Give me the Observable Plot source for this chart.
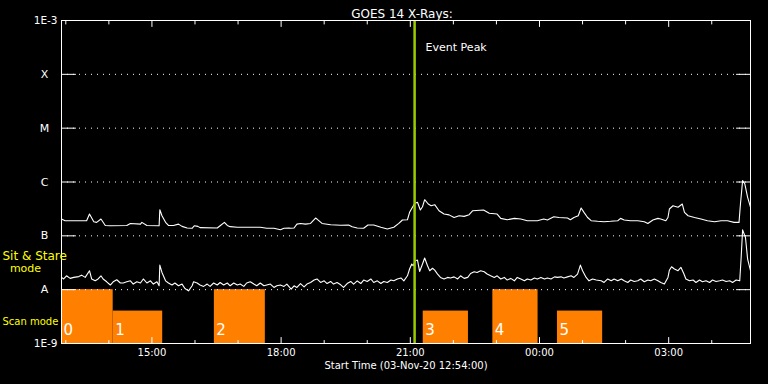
<!DOCTYPE html>
<html><head><meta charset="utf-8">
<script src="https://cdn.jsdelivr.net/npm/d3@7"></script>
<script src="https://cdn.jsdelivr.net/npm/@observablehq/plot@0.6"></script>
<style>html,body{margin:0;padding:0;background:#000;}</style>
</head><body><div id="chart"></div>
<script>
// ---- data ----
const startTime = "2020-11-03T12:54:00Z";
const endTime = "2020-11-04T04:54:00Z";
const peakTime = "2020-11-03T21:06:00Z";

// long channel (1-8 A), minutes after start / flux W m^-2
const upperMin = [0,5,35,39,45,49,55,61,68,91,96,110,112,119,136,137,140,145,149,156,163,168,175,182,185,190,193,217,221,227,231,235,245,277,286,296,305,310,317,
319,324,328,333,340,347,354,356,363,375,389,400,405,412,421,427,435,445,454,463,470,475,482,485,489,492,496,500,503,506,511,515,520,526,533,540,547,554,561,568,573,588,596,607,612,621,631,640,
649,663,672,677,686,693,705,709,714,720,724,728,733,738,747,756,765,775,779,784,793,803,812,817,824,831,835,842,845,847,852,859,865,868,873,882,891,900,910,919,928,937,944,946,949,952,956,960];
const upperFlux = [2.05e-7,1.91e-7,1.91e-7,2.54e-7,1.83e-7,1.78e-7,2.05e-7,1.56e-7,1.54e-7,1.56e-7,1.70e-7,1.65e-7,1.78e-7,1.56e-7,1.54e-7,3.05e-7,2.36e-7,1.78e-7,1.56e-7,1.56e-7,1.65e-7,1.50e-7,1.40e-7,1.38e-7,1.54e-7,1.50e-7,1.42e-7,1.40e-7,1.54e-7,1.78e-7,1.56e-7,1.48e-7,1.44e-7,1.44e-7,1.38e-7,1.38e-7,1.30e-7,1.38e-7,1.40e-7,
1.38e-7,1.40e-7,1.65e-7,1.70e-7,1.65e-7,1.70e-7,2.14e-7,2.05e-7,1.70e-7,1.61e-7,1.57e-7,1.59e-7,1.48e-7,1.40e-7,1.38e-7,1.59e-7,1.59e-7,1.44e-7,1.34e-7,1.44e-7,1.70e-7,1.97e-7,1.99e-7,2.73e-7,3.40e-7,4.0e-7,4.2e-7,3.02e-7,3.47e-7,4.69e-7,3.9e-7,3.62e-7,3.79e-7,2.93e-7,2.54e-7,2.45e-7,2.19e-7,2.36e-7,2.30e-7,2.47e-7,2.93e-7,3.02e-7,2.63e-7,2.54e-7,2.11e-7,1.99e-7,2.11e-7,2.05e-7,
1.91e-7,1.91e-7,2.05e-7,1.97e-7,2.26e-7,2.19e-7,2.14e-7,1.99e-7,2.19e-7,2.36e-7,3.29e-7,2.73e-7,2.19e-7,1.91e-7,1.86e-7,1.83e-7,1.86e-7,1.91e-7,2.11e-7,1.97e-7,1.91e-7,1.91e-7,1.83e-7,1.70e-7,1.97e-7,2.11e-7,2.05e-7,1.91e-7,2.19e-7,3.15e-7,3.62e-7,3.40e-7,3.9e-7,2.73e-7,2.36e-7,2.19e-7,2.05e-7,1.91e-7,1.83e-7,1.91e-7,1.91e-7,1.78e-7,1.78e-7,3.9e-7,1.06e-6,9.3e-7,5.2e-7,3.40e-7];

// short channel (0.5-4 A)
const lowerMin = [0,3,7,12,17,24,28,33,39,42,47,51,55,58,63,68,72,77,82,86,91,96,100,105,110,114,119,124,128,133,136,137,140,145,149,154,158,163,168,172,177,182,184,189,193,198,203,207,212,217,221,226,231,235,240,245,249,254,258,263,268,272,277,282,286,291,296,300,305,310,314,
320,324,328,333,338,342,347,352,356,361,366,370,375,379,384,389,393,398,403,407,412,417,421,426,431,435,440,445,449,454,459,463,468,473,477,482,485,488,490,493,496,499,503,506,510,513,517,520,524,528,533,538,542,547,552,556,561,566,570,575,579,584,589,593,598,603,607,612,617,621,626,631,635,
640,645,649,654,659,663,668,673,677,682,687,691,696,700,705,710,714,719,723,726,731,735,740,745,752,756,761,766,770,775,780,784,789,793,798,803,807,812,817,821,826,831,835,840,845,847,850,854,859,863,867,870,875,880,884,889,893,898,903,907,912,917,921,926,931,935,940,945,947,949,953,956,960];
const lowerFlux = [1.69e-8,1.58e-8,1.81e-8,1.62e-8,1.69e-8,1.75e-8,1.86e-8,1.69e-8,2.25e-8,1.58e-8,1.46e-8,1.58e-8,1.81e-8,1.58e-8,1.40e-8,1.22e-8,1.40e-8,1.53e-8,1.33e-8,1.33e-8,1.40e-8,1.46e-8,1.27e-8,1.40e-8,1.33e-8,1.58e-8,1.33e-8,1.46e-8,1.27e-8,1.40e-8,1.18e-8,2.86e-8,2.09e-8,1.46e-8,1.33e-8,1.22e-8,1.33e-8,1.18e-8,1.27e-8,1.05e-8,0.95e-8,1.18e-8,1.40e-8,1.33e-8,1.22e-8,1.15e-8,1.27e-8,1.15e-8,1.33e-8,1.22e-8,1.36e-8,1.22e-8,1.33e-8,1.18e-8,1.33e-8,1.22e-8,1.27e-8,1.15e-8,1.33e-8,1.40e-8,1.27e-8,1.18e-8,1.33e-8,1.18e-8,1.22e-8,1.27e-8,1.10e-8,1.18e-8,1.22e-8,1.15e-8,1.27e-8,
1.02e-8,1.18e-8,1.10e-8,1.30e-8,1.13e-8,1.27e-8,1.36e-8,1.51e-8,1.58e-8,1.36e-8,1.46e-8,1.30e-8,1.42e-8,1.27e-8,1.36e-8,1.23e-8,1.10e-8,1.30e-8,1.42e-8,1.27e-8,1.46e-8,1.30e-8,1.51e-8,1.42e-8,1.58e-8,1.36e-8,1.46e-8,1.30e-8,1.42e-8,1.36e-8,1.51e-8,1.46e-8,1.58e-8,1.65e-8,1.46e-8,1.81e-8,2.42e-8,3.0e-8,2.78e-8,3.45e-8,3.55e-8,2.18e-8,3.0e-8,3.87e-8,2.78e-8,2.25e-8,2.5e-8,2.3e-8,1.95e-8,1.69e-8,1.58e-8,1.69e-8,1.65e-8,1.73e-8,1.58e-8,1.81e-8,1.62e-8,1.69e-8,2.0e-8,2.15e-8,2.09e-8,2.25e-8,2.15e-8,1.95e-8,1.81e-8,1.69e-8,1.81e-8,1.58e-8,1.69e-8,1.51e-8,1.62e-8,1.46e-8,1.69e-8,
1.58e-8,1.46e-8,1.58e-8,1.51e-8,1.65e-8,1.58e-8,1.69e-8,1.58e-8,1.65e-8,1.58e-8,1.73e-8,1.69e-8,1.73e-8,1.65e-8,1.73e-8,1.81e-8,1.69e-8,1.95e-8,2.86e-8,2.25e-8,1.69e-8,1.46e-8,1.58e-8,1.51e-8,1.46e-8,1.36e-8,1.58e-8,1.46e-8,1.58e-8,1.46e-8,1.58e-8,1.46e-8,1.36e-8,1.51e-8,1.42e-8,1.46e-8,1.58e-8,1.40e-8,1.51e-8,1.46e-8,1.58e-8,1.46e-8,1.36e-8,1.27e-8,1.69e-8,2.3e-8,2.66e-8,2.42e-8,2.25e-8,2.6e-8,2.0e-8,1.58e-8,1.46e-8,1.51e-8,1.36e-8,1.51e-8,1.40e-8,1.46e-8,1.36e-8,1.51e-8,1.42e-8,1.46e-8,1.51e-8,1.42e-8,1.46e-8,1.36e-8,1.51e-8,1.46e-8,4.0e-8,1.29e-7,9.3e-8,3.7e-8,2.25e-8];

// scan-mode blocks
const scanStart = ["2020-11-03T12:54Z","2020-11-03T14:06Z","2020-11-03T16:27Z","2020-11-03T21:18Z","2020-11-03T22:55Z","2020-11-04T00:25Z"];
const scanEnd   = ["2020-11-03T14:06Z","2020-11-03T15:15Z","2020-11-03T17:38Z","2020-11-03T22:21Z","2020-11-03T23:58Z","2020-11-04T01:28Z"];
const scanTop   = [1e-8, 4e-9, 1e-8, 4e-9, 1e-8, 4e-9];
const scanLabel = ["0","1","2","3","4","5"];

// axis labels
const classVals = [1e-4, 1e-5, 1e-6, 1e-7, 1e-8];
const classLabels = ["X","M","C","B","A"];
const endVals = [1e-3, 1e-9];
const endLabels = ["1E-3","1E-9"];
const majorTicks = ["2020-11-03T15:00Z","2020-11-03T18:00Z","2020-11-03T21:00Z","2020-11-04T00:00Z","2020-11-04T03:00Z"];

// ---- build ----
const t0 = new Date(startTime).getTime();
const toDate = m => new Date(t0 + m * 60000);
const upper = upperMin.map((m, i) => ({t: toDate(m), f: upperFlux[i]}));
const lower = lowerMin.map((m, i) => ({t: toDate(m), f: lowerFlux[i]}));
const scans = scanStart.map((s, i) => ({x1: new Date(s), x2: new Date(scanEnd[i]), top: scanTop[i], label: scanLabel[i]}));
const majors = majorTicks.map(s => new Date(s));
const minors = d3.utcHour.range(new Date(startTime), new Date(endTime)).filter(d => d.getUTCHours() % 3 !== 0);
const classes = classVals.map((v, i) => ({v, label: classLabels[i]}));
const ends = endVals.map((v, i) => ({v, label: endLabels[i]}));

const tickShape = {draw(ctx, l) { ctx.moveTo(0, 0); ctx.lineTo(0, -l); }};
const vt = (data, opts) => Plot.vector(data, {anchor: "start", shape: tickShape, stroke: "white", strokeWidth: 1, ...opts});

const chart = Plot.plot({
  width: 768, height: 384,
  marginLeft: 61, marginRight: 18, marginTop: 20, marginBottom: 41,
  style: {background: "#000", color: "#fff", fontFamily: "DejaVu Sans, sans-serif", fontSize: "10px"},
  x: {type: "utc", domain: [new Date(startTime), new Date(endTime)], axis: null},
  y: {type: "log", domain: [1e-9, 1e-3], axis: null},
  marks: [
    Plot.rect(scans, {x1: "x1", x2: "x2", y1: d => 1e-9, y2: "top", fill: "#ff8000"}),
    Plot.ruleY(classVals, {stroke: "white", strokeDasharray: "1,5"}),
    vt(classVals, {y: d => d, frameAnchor: "left", rotate: 90, length: 14}),
    vt(classVals, {y: d => d, frameAnchor: "right", rotate: -90, length: 14}),
    vt(majors, {x: d => d, frameAnchor: "bottom", rotate: 0, length: 6}),
    vt(minors, {x: d => d, frameAnchor: "bottom", rotate: 0, length: 3}),
    vt(majors, {x: d => d, frameAnchor: "top", rotate: 180, length: 6}),
    vt(minors, {x: d => d, frameAnchor: "top", rotate: 180, length: 3.5}),
    Plot.line(upper, {x: "t", y: "f", stroke: "white", strokeWidth: 1.1}),
    Plot.line(lower, {x: "t", y: "f", stroke: "white", strokeWidth: 1.1}),
    Plot.ruleX([new Date(peakTime)], {stroke: "#99cc00", strokeWidth: 2.5}),
    Plot.frame({stroke: "white", strokeWidth: 1}),
    Plot.text(scans, {x: "x1", text: "label", frameAnchor: "bottom", dy: -9, dx: 2, textAnchor: "start", fill: "white", fontSize: 15}),
    Plot.text(["Event Peak"], {x: d => new Date(peakTime), text: d => d, frameAnchor: "top", dy: 23, dx: 11, textAnchor: "start", fill: "white", fontSize: 11}),
    Plot.text(classes, {y: "v", text: "label", frameAnchor: "left", dx: -17, textAnchor: "middle", fill: "white", fontSize: 11}),
    Plot.text(ends, {y: "v", text: "label", frameAnchor: "left", dx: -4, textAnchor: "end", fill: "white", fontSize: 10.5}),
    Plot.text(majors, {x: d => d, text: d => d3.utcFormat("%H:%M")(d), frameAnchor: "bottom", dy: 12, fill: "white", fontSize: 10}),
    Plot.text(["GOES 14 X-Rays:"], {text: d => d, frameAnchor: "top", dy: -11, dx: -4, fill: "white", fontSize: 12}),
    Plot.text(["Start Time (03-Nov-20 12:54:00)"], {text: d => d, frameAnchor: "bottom", dy: 25, fill: "white", fontSize: 10}),
    Plot.text(["Sit & Stare"], {text: d => d, frameAnchor: "bottom-left", dx: -59, dy: -84, textAnchor: "start", fill: "#ffff00", fontSize: 12}),
    Plot.text(["mode"], {text: d => d, frameAnchor: "bottom-left", dx: -36, dy: -72, textAnchor: "middle", fill: "#ffff00", fontSize: 11}),
    Plot.text(["Scan mode"], {text: d => d, frameAnchor: "bottom-left", dx: -59, dy: -19, textAnchor: "start", fill: "#ffff00", fontSize: 10})
  ]
});
document.getElementById("chart").appendChild(chart);
</script>
</body></html>
